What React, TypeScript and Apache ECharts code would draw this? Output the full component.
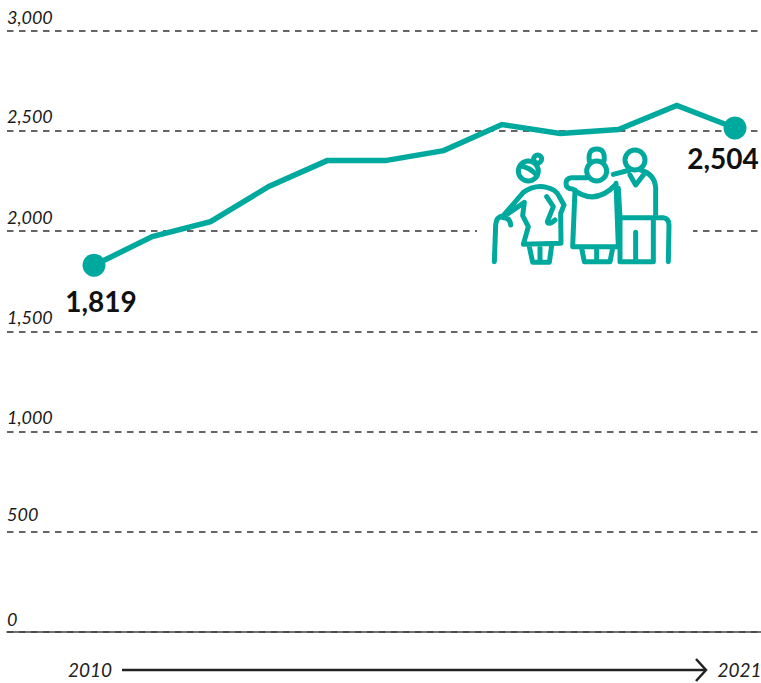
import React, { useEffect, useRef } from "react";
import * as echarts from "echarts";

const years = [2010, 2011, 2012, 2013, 2014, 2015, 2016, 2017, 2018, 2019, 2020, 2021];
const values = [1819, 1962, 2037, 2212, 2341, 2341, 2391, 2521, 2476, 2496, 2616, 2504];
const startLabel = "2010";
const endLabel = "2021";
const TEAL = "#00a99d";

// Icon outline traced at 3x; reduced to page pixels below.
const S = 1 / 3;
const ring = (cx: number, cy: number, r: number) => {
  const [x, y, R] = [cx * S, cy * S, r * S];
  return `M${x - R},${y}a${R},${R} 0 1,1 ${2 * R},0a${R},${R} 0 1,1 ${-2 * R},0Z`;
};
const shrink = (d: string) => d.replace(/-?\d+(\.\d+)?/g, (n) => String(+n * S));

const iconPath = [
  // left woman
  ring(115, 78, 30),
  ring(143, 42, 12),
  shrink("M90,62Q118,66 140,90"),
  shrink("M40,212L100,142Q135,118 170,127Q198,133 208,155L222,180L212,205L213,295L100,298L115,245L98,212L103,172L55,205"),
  shrink("M40,212Q18,215 17,240L13,350M40,218Q60,218 62,240"),
  shrink("M170,155L190,185L172,230Q175,242 195,225"),
  shrink("M118,305L128,352L178,352L185,302M150,308L150,345"),
  // middle woman
  shrink("M298,48Q293,12 320,12Q347,12 342,48"),
  ring(320, 78, 30),
  shrink("M290,98L245,98Q228,100 228,115Q228,132 248,132Q315,185 378,118"),
  shrink("M255,135L248,305L385,305L378,115"),
  shrink("M275,310L283,350L360,350L368,310M320,312L320,345"),
  // man
  ring(435, 45, 30),
  shrink("M370,88L420,75M452,75Q495,88 497,130L497,218"),
  shrink("M420,90L437,120L460,90"),
  shrink("M385,130L390,218L520,218Q537,220 537,240L535,350"),
  shrink("M390,218L390,350L490,350L490,218M437,262L437,350"),
].join("");

const tickLift: Record<number, number> = { 0: 4, 500: 9, 1000: 6, 1500: 5, 2000: 5, 2500: 6, 3000: 5 };

echarts.graphic.registerShape("elders", echarts.graphic.extendPath(iconPath, {}) as any);

export default function App() {
  const ref = useRef<HTMLDivElement>(null);
  useEffect(() => {
    document.body.style.margin = "0";
    const chart = echarts.init(ref.current!, undefined, { renderer: "svg" });
    const font = "Lato";
    const last = years.length - 1;
    const tickStyle = { fontFamily: font, fontStyle: "italic", fontSize: 18, color: "#1a1a1a" };
    const rich: Record<string, any> = {};
    Object.keys(tickLift).forEach((k) => {
      rich["t" + k] = { ...tickStyle, padding: [0, 0, tickLift[+k], 0] };
    });
    chart.setOption({
      animation: false,
      grid: { left: 7, right: 0, top: 30.5, bottom: 51, containLabel: false },
      xAxis: {
        type: "value",
        min: 2008.507,
        max: 2021.446,
        axisLine: { show: true, onZero: true, lineStyle: { color: "#444", width: 1.5 } },
        axisTick: { show: false },
        axisLabel: { show: false },
        splitLine: { show: false },
      },
      yAxis: [
        {
          type: "value",
          min: 0,
          max: 3000,
          interval: 500,
          axisLine: { show: false },
          axisTick: { show: false },
          splitLine: { show: true, lineStyle: { color: "#333", width: 1.5, type: [6.5, 5.5] } },
          axisLabel: {
            inside: true,
            margin: 0,
            align: "left",
            verticalAlign: "bottom",
            ...tickStyle,
            rich,
            formatter: (v: number) => `{t${v}|${v.toLocaleString("en-US")}}`,
          },
        },
        { type: "value", show: false, min: -10, max: 2990 },
      ],
      graphic: [
        { type: "rect", z: 5, shape: { x: 477, y: 222, width: 216, height: 18 }, style: { fill: "#fff" } },
        {
          type: "elders",
          z: 6,
          x: 490,
          y: 145,
          style: { fill: "none", stroke: TEAL, lineWidth: 5, lineCap: "round", lineJoin: "round" },
        },
        { type: "line", z: 6, shape: { x1: 122, y1: 670, x2: 705, y2: 670 }, style: { stroke: "#222", lineWidth: 2.5 } },
        {
          type: "polyline",
          z: 6,
          shape: { points: [[696, 659], [706, 670], [696, 681]] },
          style: { fill: "none", stroke: "#222", lineWidth: 2.5 },
        },
        {
          type: "text",
          z: 6,
          x: 68,
          y: 669,
          style: { text: startLabel, fontFamily: font, fontStyle: "italic", fontSize: 19, fill: "#222", verticalAlign: "middle" },
        },
        {
          type: "text",
          z: 6,
          x: 717.5,
          y: 669,
          style: { text: endLabel, fontFamily: font, fontStyle: "italic", fontSize: 19, fill: "#222", verticalAlign: "middle" },
        },
      ],
      series: [
        {
          type: "line",
          yAxisIndex: 1,
          z: 7,
          silent: true,
          lineStyle: { color: TEAL, width: 5.5, join: "miter" },
          itemStyle: { color: TEAL },
          showSymbol: true,
          showAllSymbol: true,
          data: years.map((y, i) => {
            const end = i === 0 || i === last;
            return {
              value: [y, values[i]],
              symbol: end ? "circle" : "none",
              symbolSize: end ? 23 : 0,
              label: end
                ? {
                    show: true,
                    position: "bottom",
                    distance: i === 0 ? 10 : 5,
                    offset: i === 0 ? [7, 0] : [-12, 0],
                    formatter: () => values[i].toLocaleString("en-US"),
                    fontFamily: font,
                    fontWeight: 700,
                    fontSize: 28,
                    color: "#111",
                  }
                : { show: false },
            };
          }),
        },
      ],
    });
    return () => chart.dispose();
  }, []);
  return <div ref={ref} style={{ width: 761, height: 683 }} />;
}
